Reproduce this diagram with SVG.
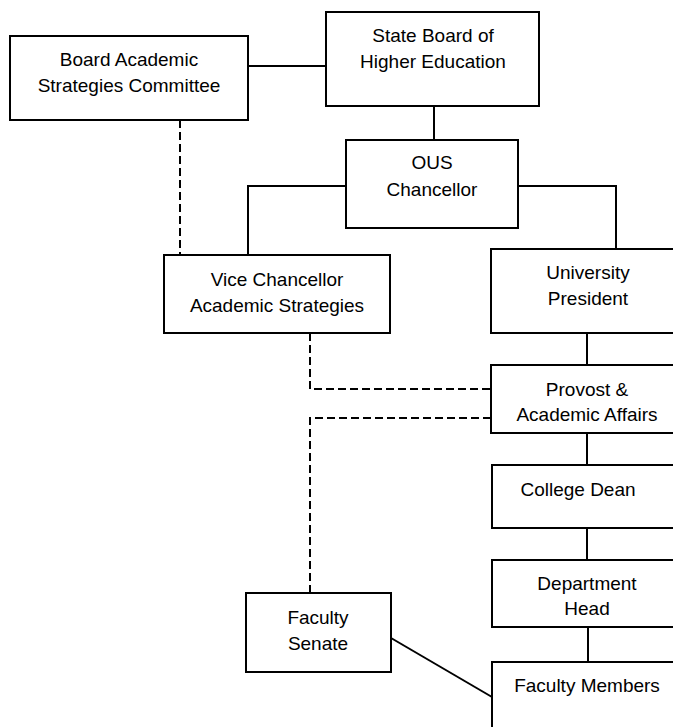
<svg xmlns="http://www.w3.org/2000/svg" width="673" height="727" viewBox="0 0 673 727">
<style>
.box{fill:#fff;stroke:#000;stroke-width:2}
.ln{fill:none;stroke:#000;stroke-width:2}
.dash{fill:none;stroke:#000;stroke-width:2;stroke-dasharray:8,4}
text{font-family:"Liberation Sans",Arial,sans-serif;font-size:19px;fill:#000;text-anchor:middle}
</style>
<rect width="673" height="727" fill="#fff"/>
<g id="connectors">
<line class="ln" x1="248" y1="66" x2="326" y2="66"/>
<line class="ln" x1="434" y1="106" x2="434" y2="140"/>
<polyline class="ln" points="346,186 248,186 248,255"/>
<polyline class="ln" points="518,186 616,186 616,249"/>
<line class="dash" x1="180" y1="120" x2="180" y2="255"/>
<line class="ln" x1="587" y1="333" x2="587" y2="365"/>
<polyline class="dash" points="310,333 310,389 491,389"/>
<polyline class="dash" points="491,418 310,418 310,593"/>
<line class="ln" x1="587" y1="433" x2="587" y2="465"/>
<line class="ln" x1="587" y1="528" x2="587" y2="560"/>
<line class="ln" x1="588" y1="627" x2="588" y2="662"/>
<line class="ln" x1="391" y1="638" x2="492" y2="697"/>
</g>
<g id="board-committee">
<rect class="box" x="10" y="36" width="238" height="84"/>
<text x="129" y="66">Board Academic</text>
<text x="129" y="92">Strategies Committee</text>
</g>
<g id="state-board">
<rect class="box" x="326" y="12" width="213" height="94"/>
<text x="433" y="42">State Board of</text>
<text x="433" y="68">Higher Education</text>
</g>
<g id="ous-chancellor">
<rect class="box" x="346" y="140" width="172" height="88"/>
<text x="432" y="169">OUS</text>
<text x="432" y="196">Chancellor</text>
</g>
<g id="vice-chancellor">
<rect class="box" x="164" y="255" width="226" height="78"/>
<text x="277" y="286">Vice Chancellor</text>
<text x="277" y="312">Academic Strategies</text>
</g>
<g id="university-president">
<rect class="box" x="491" y="249" width="200" height="84"/>
<text x="588" y="279">University</text>
<text x="588" y="305">President</text>
</g>
<g id="provost">
<rect class="box" x="491" y="365" width="200" height="68"/>
<text x="587" y="396">Provost &amp;</text>
<text x="587" y="421">Academic Affairs</text>
</g>
<g id="college-dean">
<rect class="box" x="492" y="465" width="200" height="63"/>
<text x="578" y="496">College Dean</text>
</g>
<g id="department-head">
<rect class="box" x="492" y="560" width="200" height="67"/>
<text x="587" y="590">Department</text>
<text x="587" y="615">Head</text>
</g>
<g id="faculty-members">
<rect class="box" x="492" y="662" width="200" height="80"/>
<text x="587" y="692">Faculty Members</text>
</g>
<g id="faculty-senate">
<rect class="box" x="246" y="593" width="145" height="79"/>
<text x="318" y="624">Faculty</text>
<text x="318" y="650">Senate</text>
</g>
</svg>
